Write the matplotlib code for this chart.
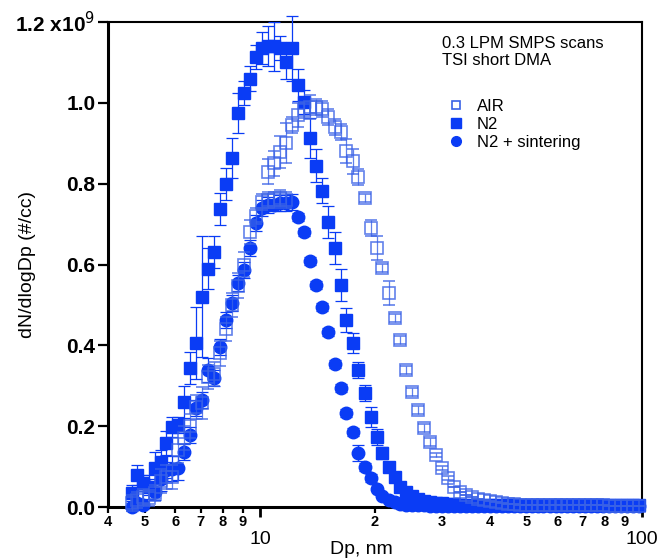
import numpy as np
import matplotlib.pyplot as plt
from matplotlib.lines import Line2D

plt.rcParams['font.family'] = ['Liberation Sans', 'DejaVu Sans']

# SMPS channel midpoints, nm
dp_nm = [4.61, 4.77, 4.94, 5.12, 5.30, 5.49, 5.69, 5.90, 6.11, 6.34,
         6.57, 6.81, 7.06, 7.32, 7.58, 7.86, 8.15, 8.45, 8.76, 9.07,
         9.41, 9.74, 10.1, 10.5, 10.9, 11.3, 11.7, 12.1, 12.6, 13.0,
         13.5, 14.0, 14.5, 15.1, 15.7, 16.3, 16.8, 17.5, 18.1, 18.8,
         19.5, 20.2, 20.9, 21.7, 22.5, 23.3, 24.1, 25.0, 25.9, 26.9,
         27.9, 28.9, 30.0, 31.1, 32.2, 33.4, 34.6, 35.9, 37.2, 38.5,
         40.0, 41.4, 42.9, 44.5, 46.1, 47.8, 49.6, 51.4, 53.3, 55.2,
         57.3, 59.4, 61.5, 63.8, 66.1, 68.5, 71.0, 73.7, 76.4, 79.1,
         82.0, 85.1, 88.2, 91.4, 94.7, 98.2]

# dN/dlogDp in units of 1e9 #/cc
n2 = [0.035, 0.079, 0.059, 0.050, 0.096, 0.111, 0.158, 0.198, 0.203, 0.260,
      0.344, 0.406, 0.520, 0.590, 0.631, 0.737, 0.800, 0.863, 0.975, 1.025,
      1.060, 1.113, 1.135, 1.140, 1.140, 1.135, 1.100, 1.135, 1.044, 1.003,
      0.913, 0.845, 0.783, 0.706, 0.641, 0.549, 0.463, 0.406, 0.339, 0.282,
      0.223, 0.173, 0.134, 0.099, 0.074, 0.050, 0.037, 0.028, 0.021, 0.016,
      0.013, 0.011, 0.009, 0.008, 0.007, 0.006, 0.006, 0.005, 0.005, 0.005,
      0.004, 0.004, 0.004, 0.004, 0.004, 0.004, 0.004, 0.004, 0.004, 0.004,
      0.004, 0.004, 0.004, 0.004, 0.004, 0.004, 0.004, 0.004, 0.004, 0.004,
      0.004, 0.004, 0.004, 0.004, 0.004, 0.004]
n2_err = [0.02, 0.025, 0.02, 0.03, 0.04, 0.03, 0.03, 0.025, 0.02, 0.04,
          0.04, 0.09, 0.15, 0.05, 0.04, 0.04, 0.04, 0.05, 0.05, 0.03,
          0.03, 0.03, 0.04, 0.05, 0.06, 0.03, 0.04, 0.08, 0.04, 0.03,
          0.05, 0.04, 0.03, 0.04, 0.04, 0.04, 0.03, 0.025, 0.02, 0.02,
          0.025, 0.02, 0.015, 0.01, 0.01, 0.005, 0.005, 0, 0, 0,
          0, 0, 0, 0, 0, 0, 0, 0, 0, 0,
          0, 0, 0, 0, 0, 0, 0, 0, 0, 0,
          0, 0, 0, 0, 0, 0, 0, 0, 0, 0,
          0, 0, 0, 0, 0, 0]

n2_sint = [0.000, 0.010, 0.005, 0.050, 0.037, 0.070, 0.092, 0.095, 0.096, 0.136,
           0.178, 0.245, 0.265, 0.339, 0.320, 0.396, 0.463, 0.505, 0.555, 0.586,
           0.641, 0.703, 0.740, 0.747, 0.747, 0.752, 0.752, 0.755, 0.717, 0.680,
           0.608, 0.550, 0.495, 0.433, 0.353, 0.294, 0.233, 0.186, 0.134, 0.100,
           0.072, 0.045, 0.028, 0.018, 0.012, 0.008, 0.006, 0.005, 0.004, 0.004,
           0.003, 0.003, 0.003, 0.003, 0.003, 0.003, 0.003, 0.003, 0.003, 0.003,
           0.003, 0.003, 0.003, 0.003, 0.003, 0.003, 0.003, 0.003, 0.003, 0.003,
           0.003, 0.003, 0.003, 0.003, 0.003, 0.003, 0.003, 0.003, 0.003, 0.003,
           0.003, 0.003, 0.003, 0.003, 0.003, 0.003]
n2_sint_err = [0.01, 0.01, 0.01, 0.02, 0.02, 0.03, 0.02, 0.03, 0.03, 0.02,
               0.02, 0.02, 0.02, 0.03, 0.02, 0.02, 0.02, 0.02, 0.02, 0.02,
               0.02, 0.02, 0.02, 0.02, 0.015, 0.02, 0.02, 0.02, 0.01, 0.01,
               0.01, 0.01, 0.01, 0.01, 0.01, 0.01, 0.01, 0.01, 0.02, 0.01,
               0.01, 0.005, 0.005, 0, 0, 0, 0, 0, 0, 0,
               0, 0, 0, 0, 0, 0, 0, 0, 0, 0,
               0, 0, 0, 0, 0, 0, 0, 0, 0, 0,
               0, 0, 0, 0, 0, 0, 0, 0, 0, 0,
               0, 0, 0, 0, 0, 0]

# AIR, two scans: small sizes (channels 0-26) and large sizes (channels 23-85)
air_lo = [0.010, 0.017, 0.025, 0.022, 0.035, 0.065, 0.074, 0.074, 0.140, 0.170,
          0.200, 0.247, 0.257, 0.322, 0.330, 0.380, 0.440, 0.500, 0.548, 0.600,
          0.680, 0.720, 0.755, 0.760, 0.760, 0.765, 0.760]
air_lo_err = [0.02, 0.02, 0.02, 0.02, 0.02, 0.03, 0.03, 0.03, 0.03, 0.03,
              0.03, 0.03, 0.04, 0.03, 0.03, 0.03, 0.03, 0.03, 0.03, 0.03,
              0.03, 0.02, 0.02, 0.02, 0.02, 0.02, 0.02]
air_hi = [0.830, 0.850, 0.878, 0.900, 0.945, 0.970, 0.982,
          0.990, 0.990, 0.985, 0.965, 0.940, 0.927, 0.880, 0.855, 0.817, 0.764,
          0.690, 0.640, 0.591, 0.529, 0.467, 0.413, 0.339, 0.285, 0.240, 0.195,
          0.161, 0.128, 0.096, 0.072, 0.050, 0.037, 0.030, 0.025, 0.021, 0.018,
          0.015, 0.012, 0.010, 0.008, 0.007, 0.006, 0.005, 0.005, 0.004, 0.004,
          0.004, 0.004, 0.004, 0.004, 0.004, 0.004, 0.004, 0.004, 0.004, 0.004,
          0.003, 0.003, 0.003, 0.003, 0.003, 0.003]
air_hi_err = [0.03, 0.03, 0.04, 0.05, 0.02, 0.03, 0.02,
              0.03, 0.02, 0.02, 0.02, 0.02, 0.02, 0.03, 0.03, 0.02, 0.01,
              0.02, 0.03, 0.01, 0.03, 0.01, 0.01, 0.01, 0.01, 0.01, 0.01,
              0.01, 0.005, 0.005, 0.005, 0, 0, 0, 0, 0, 0,
              0, 0, 0, 0, 0, 0, 0, 0, 0, 0,
              0, 0, 0, 0, 0, 0, 0, 0, 0, 0,
              0, 0, 0, 0, 0, 0]

BLUE = '#0a3cf5'
LIGHT = '#3a62e6'

fig = plt.figure(figsize=(6.61, 5.59), dpi=100)
ax = fig.add_axes([0.1634, 0.093, 0.8078, 0.8676])

ax.errorbar(dp_nm, n2, yerr=n2_err, fmt='s', ms=8.5, color=BLUE, mec=BLUE,
            ecolor=BLUE, elinewidth=0.9, capsize=4.5, capthick=0.9, clip_on=False, zorder=3)
ax.errorbar(dp_nm, n2_sint, yerr=n2_sint_err, fmt='o', ms=9, color=BLUE, mec=BLUE,
            ecolor=BLUE, elinewidth=0.9, capsize=4.5, capthick=0.9, clip_on=False, zorder=4)
ax.errorbar(dp_nm[:27], air_lo, yerr=air_lo_err, fmt='s', ms=8, mfc='none', mec=LIGHT,
            mew=1.2, ecolor=LIGHT, elinewidth=0.9, capsize=4.5, capthick=0.9,
            alpha=0.8, clip_on=False, zorder=5)
ax.errorbar(dp_nm[23:], air_hi, yerr=air_hi_err, fmt='s', ms=8, mfc='none', mec=LIGHT,
            mew=1.2, ecolor=LIGHT, elinewidth=0.9, capsize=4.5, capthick=0.9,
            alpha=0.8, clip_on=False, zorder=5)

ax.set_xscale('log')
ax.set_xlim(4, 100)
ax.set_ylim(0, 1.2)

# axes frame
for side in ['left', 'bottom']:
    ax.spines[side].set_linewidth(2.2)
for side in ['top', 'right']:
    ax.spines[side].set_linewidth(1.5)

ax.set_yticks([0, 0.2, 0.4, 0.6, 0.8, 1.0, 1.2])
ax.set_yticklabels(['0.0', '0.2', '0.4', '0.6', '0.8', '1.0', '1.2 x10$^{9}$'],
                   fontsize=15, fontweight='bold')
ax.tick_params(axis='y', direction='out', length=7, width=1.6, pad=2)

major_x = [10, 100]
minor_x = [4, 5, 6, 7, 8, 9, 20, 30, 40, 50, 60, 70, 80, 90]
minor_lbl = ['4', '5', '6', '7', '8', '9', '2', '3', '4', '5', '6', '7', '8', '9']
ax.set_xticks(major_x)
ax.set_xticklabels(['10', '100'], fontsize=14)
ax.set_xticks(minor_x, minor=True)
ax.set_xticklabels(minor_lbl, minor=True, fontsize=10.5, fontweight='bold')
ax.tick_params(axis='x', which='major', direction='out', length=7, width=2, pad=10)
ax.tick_params(axis='x', which='minor', direction='out', length=4.5, width=1.6, pad=1.5)

ax.set_xlabel('Dp, nm', fontsize=14)
ax.xaxis.set_label_coords(0.474, -0.070)
ax.set_ylabel('dN/dlogDp (#/cc)', fontsize=14)
ax.yaxis.set_label_coords(-0.135, 0.5)

ax.text(0.625, 0.971, '0.3 LPM SMPS scans\nTSI short DMA', transform=ax.transAxes,
        fontsize=12, va='top', ha='left', linespacing=1.2)

handles = [Line2D([], [], ls='none', marker='s', ms=6, mfc='none', mec=LIGHT, mew=1.2),
           Line2D([], [], ls='none', marker='s', ms=6.5, color=BLUE),
           Line2D([], [], ls='none', marker='o', ms=7, color=BLUE)]
ax.legend(handles, ['AIR', 'N2', 'N2 + sintering'], loc='upper left',
          bbox_to_anchor=(0.636, 0.842), frameon=False, fontsize=12,
          borderpad=0, borderaxespad=0, handlelength=1.0, handletextpad=0.75,
          labelspacing=0.2)

fig.savefig('out.png', dpi=100)
